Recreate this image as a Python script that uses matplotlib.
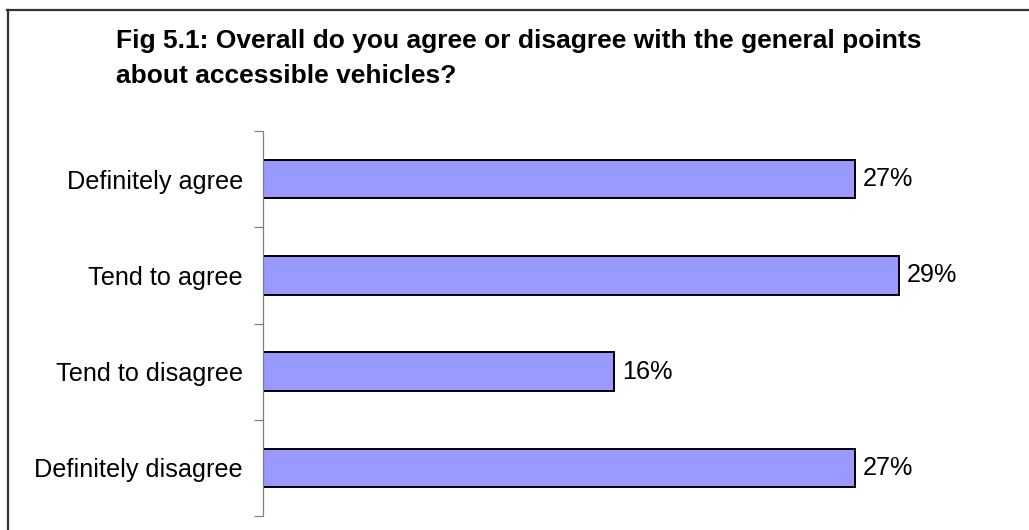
import matplotlib
matplotlib.use("Agg")
import matplotlib.pyplot as plt
from matplotlib.lines import Line2D

categories = ["Definitely agree", "Tend to agree", "Tend to disagree", "Definitely disagree"]
values = [27, 29, 16, 27]
title_lines = ["Fig 5.1: Overall do you agree or disagree with the general points",
               "about accessible vehicles?"]

W, H = 1029, 530
DPI = 100
plt.rcParams["font.family"] = ["Liberation Sans", "DejaVu Sans"]
LABEL_SIZE = 18.2
TITLE_SIZE = 19

fig = plt.figure(figsize=(W / DPI, H / DPI), dpi=DPI)
fig.patch.set_facecolor("white")

# plot area in pixel coordinates
left_px, top_px, bottom_px = 263, 131, 516
xmax = 34
px_per_unit = 21.93
ax = fig.add_axes([left_px / W, (H - bottom_px) / H,
                   xmax * px_per_unit / W, (bottom_px - top_px) / H])

y = list(range(len(categories)))
ax.barh(y, values, height=0.4, color="#9999FF", edgecolor="black", linewidth=1.4)

for yi, v in zip(y, values):
    ax.text(v + 0.36, yi, f"{v}%", va="center", ha="left", fontsize=LABEL_SIZE)

ax.set_xlim(0, xmax)
ax.set_ylim(len(categories) - 0.5, -0.5)

ax.set_yticks(y)
ax.set_yticklabels(categories, fontsize=LABEL_SIZE)
ax.tick_params(axis="y", which="major", length=0, pad=14.4)
ax.set_yticks([i - 0.5 for i in range(len(categories) + 1)], minor=True)
ax.tick_params(axis="y", which="minor", length=6.5, width=0.9, color="#808080", direction="out")
ax.set_xticks([])

for s in ["top", "right", "bottom"]:
    ax.spines[s].set_visible(False)
ax.spines["left"].set_color("#808080")
ax.spines["left"].set_linewidth(0.9)

# title, two lines
fig.text(116 / W, 1 - 48 / H, title_lines[0], fontsize=TITLE_SIZE, fontweight="bold",
         ha="left", va="baseline")
fig.text(116 / W, 1 - 83 / H, title_lines[1], fontsize=TITLE_SIZE, fontweight="bold",
         ha="left", va="baseline")

# chart frame (top and left edges)
fig.add_artist(Line2D([7 / W, 1.0], [1 - 9.5 / H, 1 - 9.5 / H], transform=fig.transFigure,
                      color="#333333", linewidth=1.6))
fig.add_artist(Line2D([7.5 / W, 7.5 / W], [0, 1 - 9.5 / H], transform=fig.transFigure,
                      color="#333333", linewidth=1.6))

fig.savefig("out.png", dpi=DPI, facecolor="white")
